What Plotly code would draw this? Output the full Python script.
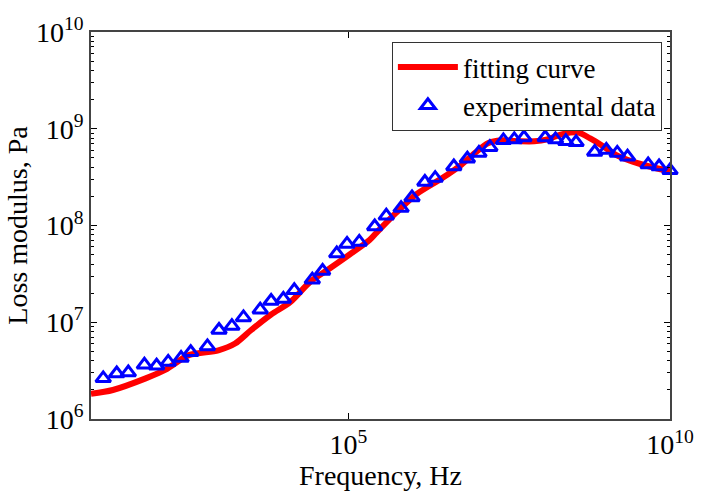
import plotly.graph_objects as go

exp_logf = [1.19, 1.40, 1.58, 1.83, 2.02, 2.20, 2.40, 2.55, 2.81, 2.99, 3.19, 3.37,
            3.63, 3.80, 3.99, 4.16, 4.44, 4.60, 4.82, 4.98, 5.17, 5.41, 5.59, 5.82,
            5.99, 6.19, 6.35, 6.64, 6.85, 7.03, 7.20, 7.41, 7.58, 7.73, 8.06, 8.22,
            8.38, 8.54, 8.83, 9.01, 9.18, 9.34, 9.66, 9.83, 10.0]
exp_logG = [6.42, 6.47, 6.48, 6.56, 6.55, 6.59, 6.63, 6.69, 6.75, 6.92, 6.96, 7.05,
            7.13, 7.22, 7.24, 7.33, 7.44, 7.53, 7.71, 7.81, 7.83, 7.99, 8.10, 8.18,
            8.29, 8.45, 8.49, 8.61, 8.69, 8.75, 8.81, 8.88, 8.89, 8.91, 8.91, 8.89,
            8.87, 8.86, 8.76, 8.78, 8.75, 8.71, 8.63, 8.61, 8.57]

# fitting curve (log10 values)
fit_logf = [1.0, 1.34, 1.85, 2.16, 2.52, 2.98, 3.24, 3.49, 3.80, 4.10, 4.41, 4.72,
            5.02, 5.33, 5.43, 5.74, 6.05, 6.46, 6.76, 6.97, 7.17, 7.38, 7.68, 7.89,
            8.09, 8.30, 8.45, 8.58, 8.76, 8.96, 9.16, 9.42, 9.68, 10.0]
fit_logG = [6.26, 6.30, 6.42, 6.51, 6.66, 6.71, 6.78, 6.92, 7.08, 7.21, 7.42, 7.56,
            7.70, 7.85, 7.92, 8.13, 8.32, 8.49, 8.63, 8.75, 8.85, 8.88, 8.87, 8.87,
            8.89, 8.94, 8.96, 8.96, 8.90, 8.82, 8.73, 8.66, 8.61, 8.56]

y_ticks = [6, 7, 8, 9, 10]
x_ticks = [5, 10]

exp_f = [10 ** v for v in exp_logf]
exp_G = [10 ** v for v in exp_logG]
fit_f = [10 ** v for v in fit_logf]
fit_G = [10 ** v for v in fit_logG]

FONT = "Liberation Serif, Times New Roman, serif"

fig = go.Figure()
fig.add_trace(go.Scatter(
    x=fit_f, y=fit_G, mode="lines", name="fitting curve",
    line=dict(color="#ff0000", width=6, shape="spline", smoothing=0.8),
    legendgroup="a", cliponaxis=False))
fig.add_trace(go.Scatter(
    x=exp_f, y=exp_G, mode="markers", name="experimental data",
    marker=dict(symbol="triangle-up-open", size=13, color="#0000ff",
                line=dict(width=3, color="#0000ff")),
    legendgroup="b", cliponaxis=False))

minor_vals = [m * 10 ** k for k in range(1, 11) for m in range(2, 10)]

fig.update_layout(
    width=706, height=496,
    margin=dict(l=91, r=28, t=32, b=77),
    paper_bgcolor="white", plot_bgcolor="white",
    font=dict(family=FONT, size=28, color="black"),
    showlegend=True,
    legend=dict(x=0.986, y=0.974, xanchor="right", yanchor="top",
                bordercolor="#333", borderwidth=1, bgcolor="white",
                font=dict(family=FONT, size=27), tracegroupgap=0,
                itemwidth=60),
)
fig.update_xaxes(
    type="log", range=[1, 10],
    tickmode="array", tickvals=[10 ** v for v in x_ticks],
    ticktext=["10<sup>%d</sup>" % v for v in x_ticks],
    ticks="inside", ticklen=6, tickcolor="black", tickwidth=1,
    showline=True, linecolor="#444", linewidth=1.5, mirror="ticks",
    showgrid=False, zeroline=False,
    title=dict(text="Frequency, Hz", font=dict(family=FONT, size=28), standoff=0),
)
fig.update_yaxes(
    type="log", range=[6, 10],
    tickmode="array", tickvals=[10 ** v for v in y_ticks],
    ticktext=["10<sup>%d</sup>" % v for v in y_ticks],
    ticks="inside", ticklen=6, tickcolor="black", tickwidth=1,
    minor=dict(tickmode="array", tickvals=minor_vals, ticks="inside",
               ticklen=3, tickcolor="black", tickwidth=1, showgrid=False),
    showline=True, linecolor="#444", linewidth=1.5, mirror="ticks",
    showgrid=False, zeroline=False,
    title=dict(text="Loss modulus, Pa", font=dict(family=FONT, size=28), standoff=0),
)

fig.write_html("out.html")
